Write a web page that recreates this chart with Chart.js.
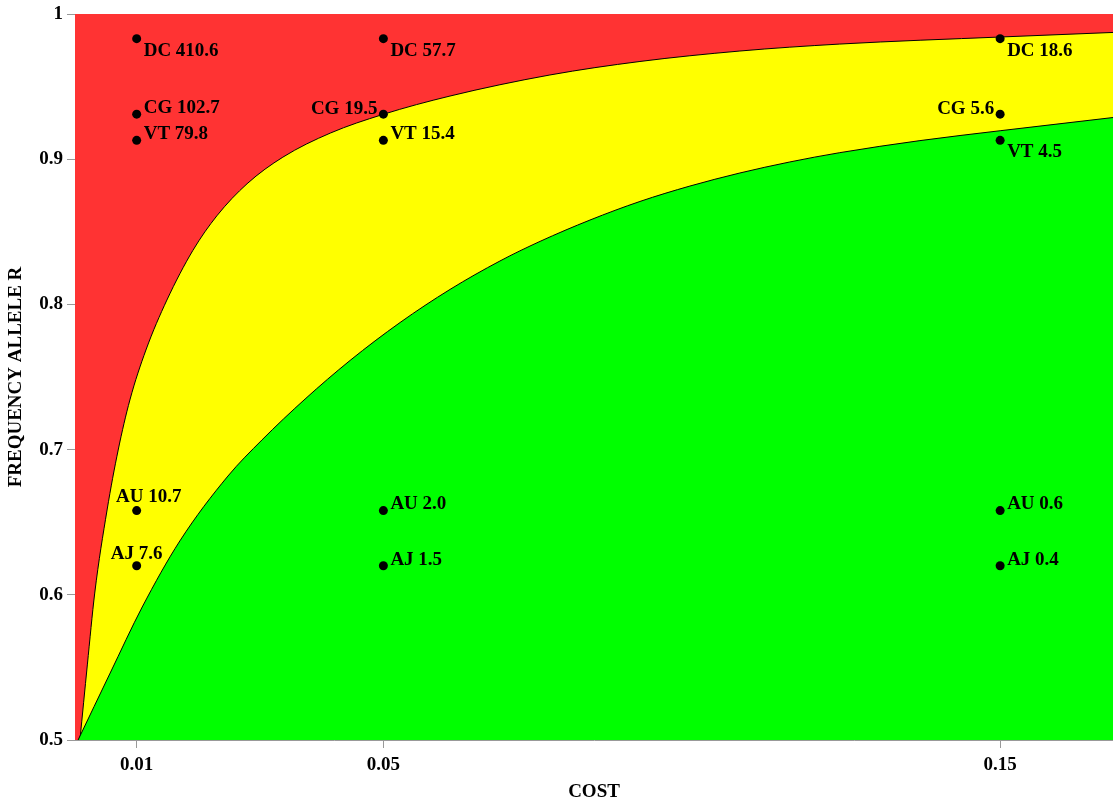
<!DOCTYPE html>
<html>
<head>
<meta charset="utf-8">
<script src="https://cdn.jsdelivr.net/npm/chart.js@4.4.1/dist/chart.umd.min.js"></script>
<style>
    html, body { margin: 0; padding: 0; background: #fff; overflow: hidden; }
    canvas { display: block; }
</style>
</head>
<body>
<canvas id="grafico" width="1113" height="803"></canvas>
<script>
// custo e frequencia dos pontos
const costs = [0.01, 0.05, 0.15];
const codes = ['DC', 'CG', 'VT', 'AU', 'AJ'];
const freqs = [0.983, 0.931, 0.913, 0.658, 0.620];
const valuesAt001 = [410.6, 102.7, 79.8, 10.7, 7.6];
const valuesAt005 = [57.7, 19.5, 15.4, 2.0, 1.5];
const valuesAt015 = [18.6, 5.6, 4.5, 0.6, 0.4];

// curva superior (vermelho / amarelo)
const upperCost = [0.0008, 0.0020, 0.0032, 0.0052, 0.0070, 0.0089, 0.0115, 0.0149, 0.0191, 0.0230, 0.0279, 0.0337, 0.0414, 0.0499, 0.0608, 0.0770, 0.0916, 0.1078, 0.1240, 0.1503, 0.1683];
const upperFreq = [0.5000, 0.5517, 0.6012, 0.6584, 0.6997, 0.7342, 0.7686, 0.8030, 0.8371, 0.8610, 0.8831, 0.9014, 0.9180, 0.9308, 0.9435, 0.9580, 0.9673, 0.9745, 0.9793, 0.9842, 0.9873];

// curva inferior (amarelo / verde)
const lowerCost = [0.0005, 0.0057, 0.0109, 0.0170, 0.0248, 0.0303, 0.0373, 0.0446, 0.0527, 0.0608, 0.0689, 0.0754, 0.0835, 0.0916, 0.0997, 0.1078, 0.1159, 0.1240, 0.1370, 0.1500, 0.1683];
const lowerFreq = [0.5000, 0.5461, 0.5916, 0.6371, 0.6818, 0.7066, 0.7348, 0.7614, 0.7875, 0.8103, 0.8299, 0.8434, 0.8581, 0.8709, 0.8815, 0.8905, 0.8981, 0.9045, 0.9128, 0.9196, 0.9287];

const xTicks = [0.01, 0.05, 0.15];
const xMax = 0.1683;

const familia = '"Liberation Serif", "Times New Roman", serif';
const fonte = 'bold 19px ' + familia;

const pontos = [];
[valuesAt001, valuesAt005, valuesAt015].forEach((vals, i) => {
    codes.forEach((c, j) => {
        pontos.push({ x: costs[i], y: freqs[j], label: c + ' ' + vals[j].toFixed(1) });
    });
});

// onde fica cada rotulo (mesma ordem dos pontos)
const posRotulo = [
    'rb', 'r', 'r', 'a', 'a2',
    'rb', 'l', 'r', 'r', 'r',
    'rb', 'l', 'rb', 'r', 'r'
];
const offsets = {
    rb: { align: 'left', dx: 7, dy: 12 },
    r: { align: 'left', dx: 7, dy: -6 },
    l: { align: 'right', dx: -6, dy: -5 },
    a: { align: 'center', dx: 12, dy: -13 },
    a2: { align: 'center', dx: 0, dy: -12 }
};

const rotulos = {
    id: 'rotulos',
    afterDatasetsDraw(chart) {
        const ctx = chart.ctx;
        const meta = chart.getDatasetMeta(0);
        ctx.save();
        ctx.font = fonte;
        ctx.fillStyle = '#000';
        ctx.textBaseline = 'middle';
        meta.data.forEach((el, i) => {
            const o = offsets[posRotulo[i]];
            ctx.textAlign = o.align;
            ctx.fillText(pontos[i].label, el.x + o.dx, el.y + o.dy);
        });
        ctx.restore();
    }
};

const curva = (xs, ys) => xs.map((x, i) => ({ x: x, y: ys[i] }));

new Chart(document.getElementById('grafico'), {
    type: 'line',
    data: {
        datasets: [
            {
                data: pontos,
                showLine: false,
                pointRadius: 4.5,
                pointBackgroundColor: '#000',
                pointBorderWidth: 0
            },
            {
                data: curva(lowerCost, lowerFreq),
                borderColor: '#000',
                borderWidth: 1,
                pointRadius: 0,
                cubicInterpolationMode: 'monotone',
                fill: 'start',
                backgroundColor: '#00ff00'
            },
            {
                data: curva(upperCost, upperFreq),
                borderColor: '#000',
                borderWidth: 1,
                pointRadius: 0,
                cubicInterpolationMode: 'monotone',
                fill: 'start',
                backgroundColor: '#ffff00'
            },
            {
                data: [{ x: 0, y: 1 }, { x: xMax, y: 1 }],
                borderWidth: 0,
                pointRadius: 0,
                fill: 'start',
                backgroundColor: '#ff3333'
            }
        ]
    },
    options: {
        responsive: false,
        animation: false,
        devicePixelRatio: 1,
        layout: { autoPadding: false, padding: 0 },
        scales: {
            x: {
                type: 'linear',
                min: 0,
                max: xMax,
                afterBuildTicks: (scale) => {
                    scale.ticks = xTicks.map(v => ({ value: v }));
                },
                afterFit: (scale) => {
                    scale.height = 63;
                    scale.paddingLeft = 0;
                    scale.paddingRight = 0;
                },
                grid: { drawOnChartArea: false, drawTicks: true, tickLength: 8, color: '#999' },
                border: { display: true, color: '#999' },
                ticks: {
                    color: '#000',
                    padding: 6,
                    font: { family: familia, weight: 'bold', size: 19 },
                    callback: (v) => String(v)
                },
                title: {
                    display: true,
                    text: 'COST',
                    color: '#000',
                    padding: { top: 6, bottom: 1 },
                    font: { family: familia, weight: 'bold', size: 19, lineHeight: 1 }
                }
            },
            y: {
                min: 0.5,
                max: 1,
                afterFit: (scale) => {
                    scale.width = 75;
                    scale.paddingTop = 14;
                    scale.paddingBottom = 0;
                },
                ticks: {
                    stepSize: 0.1,
                    color: '#000',
                    padding: 4,
                    font: { family: familia, weight: 'bold', size: 19 },
                    callback: (v) => String(Number(v.toFixed(1)))
                },
                grid: { drawOnChartArea: false, drawTicks: true, tickLength: 8, color: '#999' },
                border: { display: true, color: '#999' },
                title: {
                    display: true,
                    text: 'FREQUENCY ALLELE R',
                    color: '#000',
                    padding: { top: 7, bottom: 11 },
                    font: { family: familia, weight: 'bold', size: 19, lineHeight: 1 }
                }
            }
        },
        plugins: {
            legend: { display: false },
            tooltip: { enabled: false }
        }
    },
    plugins: [rotulos]
});
</script>
</body>
</html>
